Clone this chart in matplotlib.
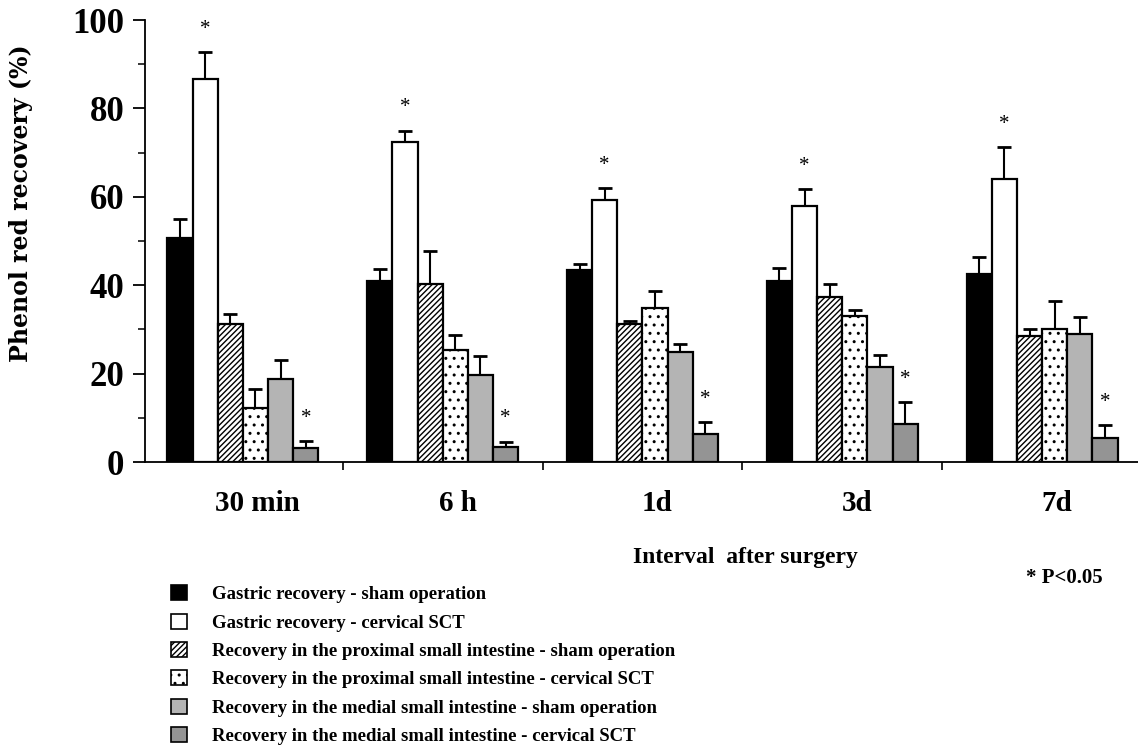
import numpy as np
import matplotlib
matplotlib.use("Agg")
import matplotlib.pyplot as plt
from matplotlib.patches import Patch

plt.rcParams['font.family'] = ['Liberation Serif', 'DejaVu Serif']
plt.rcParams['font.weight'] = 'bold'
plt.rcParams['hatch.linewidth'] = 1.0

intervals = ["30 min", "6 h", "1d", "3d", "7d"]

series_labels = [
    "Gastric recovery - sham operation",
    "Gastric recovery - cervical SCT",
    "Recovery in the proximal small intestine - sham operation",
    "Recovery in the proximal small intestine - cervical SCT",
    "Recovery in the medial small intestine - sham operation",
    "Recovery in the medial small intestine - cervical SCT",
]

# mean values per interval (one list per series)
gastric_sham = [50.6, 40.9, 43.5, 41.0, 42.6]
gastric_sct = [86.6, 72.5, 59.2, 58.0, 64.0]
prox_sham = [31.2, 40.3, 31.2, 37.4, 28.6]
prox_sct = [12.2, 25.3, 34.8, 33.1, 30.2]
medial_sham = [18.8, 19.7, 25.0, 21.6, 29.0]
medial_sct = [3.1, 3.3, 6.3, 8.7, 5.5]

# upward error (SEM)
gastric_sham_err = [4.3, 2.8, 1.4, 2.8, 3.8]
gastric_sct_err = [6.1, 2.5, 2.8, 3.7, 7.3]
prox_sham_err = [2.3, 7.4, 0.8, 2.8, 1.4]
prox_sct_err = [4.3, 3.4, 4.0, 1.3, 6.3]
medial_sham_err = [4.4, 4.3, 1.7, 2.6, 3.9]
medial_sct_err = [1.7, 1.3, 2.8, 4.8, 2.8]

means = [gastric_sham, gastric_sct, prox_sham, prox_sct, medial_sham, medial_sct]
errs = [gastric_sham_err, gastric_sct_err, prox_sham_err, prox_sct_err,
        medial_sham_err, medial_sct_err]
significant = [False, True, False, False, False, True]

faces = ['black', 'white', 'white', 'white', '#b4b4b4', '#949494']
hatches = [None, None, '//////', '. .', None, None]

fig = plt.figure(figsize=(11.38, 7.55), dpi=100)
ax = fig.add_axes([0.1274, 0.388, 0.8726, 0.5855])

x = np.arange(len(intervals))
w = 0.126
for k in range(6):
    pos = x + (k - 2.5) * w
    ax.bar(pos, means[k], width=w, color=faces[k], edgecolor='black',
           linewidth=1.6, hatch=hatches[k], zorder=2)
    ax.errorbar(pos, means[k], yerr=[np.zeros(5), errs[k]], fmt='none',
                ecolor='black', elinewidth=1.5, capsize=5, capthick=2, zorder=1)
    if significant[k]:
        for i in range(5):
            ax.text(pos[i], means[k][i] + errs[k][i] + 3, "*", ha='center',
                    va='bottom', fontsize=15, fontweight='normal')

ax.set_xlim(-0.49, 4.48)
ax.set_ylim(0, 100)
ax.spines['top'].set_visible(False)
ax.spines['right'].set_visible(False)
ax.spines['left'].set_linewidth(1.3)
ax.spines['bottom'].set_linewidth(1.3)

ax.set_yticks([0, 20, 40, 60, 80, 100])
ax.set_yticks([10, 30, 50, 70, 90], minor=True)
ax.tick_params(axis='y', which='major', length=9, width=1.3, labelsize=25, pad=6)
ax.tick_params(axis='y', which='minor', length=5, width=1.1)

ax.set_xticks(x + 0.075)
ax.set_xticklabels(intervals)
ax.set_xticks([0.5, 1.5, 2.5, 3.5], minor=True)
ax.tick_params(axis='x', which='major', length=0, labelsize=21, pad=20)
ax.tick_params(axis='x', which='minor', length=6, width=1.2, direction='out')

ax.set_ylabel("Phenol red recovery (%)", fontsize=17, fontweight='bold',
              family=['DejaVu Serif'])
ax.yaxis.set_label_coords(-0.113, 0.586)

fig.text(0.655, 0.262, "Interval  after surgery", ha='center', va='center', fontsize=17)
fig.text(0.935, 0.234, "* P<0.05", ha='center', va='center', fontsize=15)

handles = [Patch(facecolor=faces[k], edgecolor='black', hatch=hatches[k], linewidth=1.2)
           for k in range(6)]
fig.legend(handles, series_labels, loc='upper left', bbox_to_anchor=(0.142, 0.237),
           frameon=False, fontsize=13.5, handlelength=0.85, handleheight=0.85,
           handletextpad=1.35, labelspacing=0.55, borderpad=0)

fig.savefig("out.png", dpi=100)
